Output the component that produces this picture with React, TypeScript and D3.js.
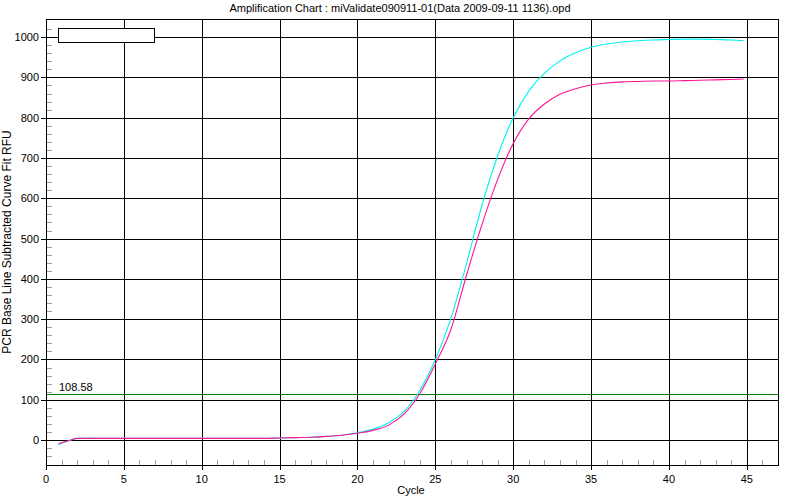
import React from "react";
import * as d3 from "d3";

const TITLE = "Amplification Chart : miValidate090911-01(Data 2009-09-11 1136).opd";
const Y_LABEL = "PCR Base Line Subtracted Curve Fit RFU";
const X_LABEL = "Cycle";
const THRESHOLD = 108.58;
const THRESHOLD_LABEL = "108.58";

const xTicks = [0, 5, 10, 15, 20, 25, 30, 35, 40, 45];
const yTicks = [0, 100, 200, 300, 400, 500, 600, 700, 800, 900, 1000];

const cycles = [0.8, 1, 1.5, 2, 3, 4, 5, 6, 7, 8, 9, 10, 11, 12, 13, 14, 15, 16, 17, 18, 19, 20, 21, 22, 23, 24, 25, 26, 27, 28, 29, 30, 31, 32, 33, 34, 35, 36, 37, 38, 39, 40, 41, 42, 43, 44, 44.8];
const cyanValues = [-11, -8, -1, 4, 5, 4, 4, 4, 4, 4, 4, 4, 4, 4, 4, 4, 5, 6, 7, 9, 12, 18, 27, 43, 71, 123, 200, 302, 438, 584, 705, 800, 866, 910, 941, 961, 975, 983, 988, 991, 993, 994, 995, 995, 994, 993, 991];
const magentaValues = [-10, -7, -1, 4, 4, 4, 4, 4, 4, 4, 4, 4, 4, 4, 4, 4, 5, 6, 7, 9, 12, 17, 24, 37, 65, 115, 189, 275, 409, 536, 647, 736, 797, 834, 858, 872, 881, 886, 889, 890, 891, 891, 892, 893, 894, 895, 896];

const W = 800;
const H = 500;
const L = 46, R = 778, T = 19, B = 465;

export default function App() {
  const x = d3.scaleLinear().domain([0, 47]).range([L, R]);
  const y = d3.scaleLinear().domain([-62, 1045]).range([B, T]);
  const px = (v: number) => Math.round(x(v)) + 0.5;
  const py = (v: number) => Math.round(y(v)) + 0.5;

  const line = d3
    .line<[number, number]>()
    .x((d) => x(d[0]))
    .y((d) => y(d[1]))
    .curve(d3.curveMonotoneX);

  const cyanPts = cycles.map((c, i) => [c, cyanValues[i]] as [number, number]);
  const magPts = cycles.map((c, i) => [c, magentaValues[i]] as [number, number]);

  const xMinor = d3.range(1, 47).filter((c) => c % 5 !== 0);
  const yMinor = d3.range(-40, 1021, 20).filter((v) => v % 100 !== 0);

  const font = "'Liberation Sans', Arial, sans-serif";

  return (
    <div style={{ position: "fixed", left: 0, top: 0, width: W, height: H, background: "#fff" }}>
      <svg width={W} height={H} style={{ display: "block", fontFamily: font }}>
        <rect x={0} y={0} width={W} height={H} fill="#fff" />
        <text x={400} y={12} fontSize={11} textAnchor="middle" fill="#000">{TITLE}</text>

        {/* minor ticks */}
        <g stroke="#a0a0a0" strokeWidth={1} shapeRendering="crispEdges">
          {xMinor.map((c) => (
            <line key={"xm" + c} x1={px(c)} x2={px(c)} y1={B} y2={B - 5} />
          ))}
          {yMinor.map((v) => (
            <line key={"ym" + v} x1={L} x2={L + 6} y1={py(v)} y2={py(v)} />
          ))}
        </g>

        {/* grid */}
        <g stroke="#000" strokeWidth={1} shapeRendering="crispEdges">
          {xTicks.map((c) => (
            <line key={"xg" + c} x1={px(c)} x2={px(c)} y1={T} y2={B + 5} />
          ))}
          {yTicks.map((v) => (
            <line key={"yg" + v} x1={L - 5} x2={R} y1={py(v)} y2={py(v)} />
          ))}
        </g>

        {/* threshold */}
        <line x1={L} x2={R} y1={py(THRESHOLD) - 2} y2={py(THRESHOLD) - 2} stroke="#008000" strokeWidth={1} shapeRendering="crispEdges" />
        <text x={59} y={390.5} fontSize={11} fill="#000">{THRESHOLD_LABEL}</text>

        {/* curves */}
        <path d={line(cyanPts) || ""} fill="none" stroke="#00F0F0" strokeWidth={1.1} />
        <path d={line(magPts) || ""} fill="none" stroke="#FF1493" strokeWidth={1.1} />

        {/* border */}
        <rect x={L + 0.5} y={T + 0.5} width={R - L} height={B - T} fill="none" stroke="#000" strokeWidth={1} shapeRendering="crispEdges" />

        {/* legend box */}
        <rect x={58.5} y={28.5} width={96} height={14} fill="#fff" stroke="#000" strokeWidth={1} shapeRendering="crispEdges" />

        {/* tick labels */}
        {xTicks.map((c) => (
          <text key={"xl" + c} x={x(c)} y={483} fontSize={11} textAnchor="middle" fill="#000">{c}</text>
        ))}
        {yTicks.map((v) => (
          <text key={"yl" + v} x={39} y={y(v) + 4} fontSize={11} textAnchor="end" fill="#000">{v}</text>
        ))}

        <text x={411} y={494} fontSize={11} textAnchor="middle" fill="#000">{X_LABEL}</text>
        <text transform="translate(11,242) rotate(-90)" fontSize={12} textAnchor="middle" fill="#000">{Y_LABEL}</text>
      </svg>
    </div>
  );
}
